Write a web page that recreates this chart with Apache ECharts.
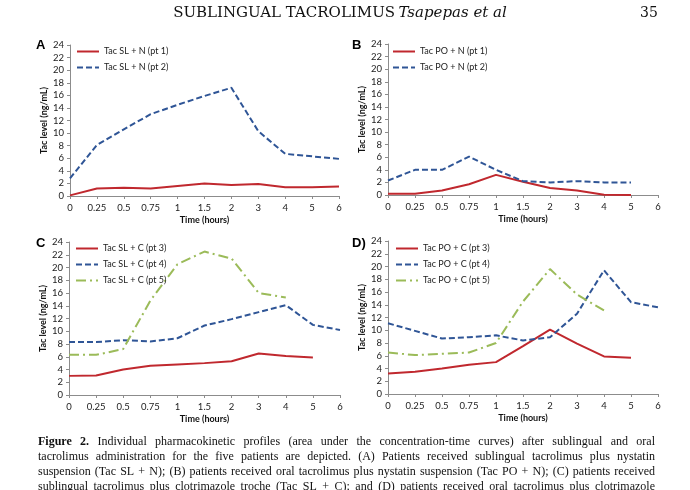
<!DOCTYPE html>
<html><head><meta charset="utf-8">
<script src="https://cdn.jsdelivr.net/npm/echarts@6/dist/echarts.min.js"></script>
<style>html,body{margin:0;padding:0;background:#fff}#c{width:690px;height:490px}</style>
</head><body><div id="c"></div>
<script>
// ---- data ----
const timeLabels = ['0','0.25','0.5','0.75','1','1.5','2','3','4','5','6'];
const yMin = 0, yMax = 24, yStep = 2;

const aNames = ['Tac SL + N (pt 1)', 'Tac SL + N (pt 2)'];
const aPt1 = [0.1, 1.2, 1.3, 1.2, 1.6, 2.0, 1.75, 1.9, 1.4, 1.4, 1.5];
const aPt2 = [2.8, 8.1, 10.6, 13.0, 14.5, 15.9, 17.2, 10.3, 6.7, 6.3, 5.9];

const bNames = ['Tac PO + N (pt 1)', 'Tac PO + N (pt 2)'];
const bPt1 = [0.2, 0.2, 0.7, 1.7, 3.2, 2.1, 1.1, 0.7, 0.05, 0.0, null];
const bPt2 = [2.3, 4.0, 4.0, 6.1, 4.0, 2.2, 2.0, 2.2, 2.0, 2.0, null];

const cNames = ['Tac SL + C (pt 3)', 'Tac SL + C (pt 4)', 'Tac SL + C (pt 5)'];
const cPt3 = [3.0, 3.05, 4.0, 4.6, 4.8, 5.0, 5.3, 6.5, 6.1, 5.9, null];
const cPt4 = [8.3, 8.3, 8.6, 8.4, 8.9, 10.9, 11.9, 13.0, 14.1, 11.0, 10.2];
const cPt5 = [6.3, 6.3, 7.2, 14.8, 20.5, 22.5, 21.4, 16.0, 15.3, null, null];

const dNames = ['Tac PO + C (pt 3)', 'Tac PO + C (pt 4)', 'Tac PO + C (pt 5)'];
const dPt3 = [3.2, 3.5, 4.0, 4.6, 5.0, 7.5, 10.1, 7.9, 5.9, 5.7, null];
const dPt4 = [11.1, 9.9, 8.7, 8.9, 9.2, 8.4, 8.9, 12.6, 19.4, 14.4, 13.6];
const dPt5 = [6.5, 6.1, 6.3, 6.5, 8.0, 14.5, 19.6, 15.6, 13.1, null, null];

const panelLetters = ['A', 'B', 'C', 'D)'];
const xAxisTitle = 'Time (hours)';
const yAxisTitle = 'Tac level (ng/mL)';
const headerMain = 'SUBLINGUAL TACROLIMUS';
const headerItalic = 'Tsapepas et al';
const pageNumber = '35';
const captionLines = [
  'Figure 2. Individual pharmacokinetic profiles (area under the concentration-time curves) after sublingual and oral',
  'tacrolimus administration for the five patients are depicted. (A) Patients received sublingual tacrolimus plus nystatin',
  'suspension (Tac SL + N); (B) patients received oral tacrolimus plus nystatin suspension (Tac PO + N); (C) patients received',
  'sublingual tacrolimus plus clotrimazole troche (Tac SL + C); and (D) patients received oral tacrolimus plus clotrimazole',
  'troche (Tac PO + C).'
];

// ---- styles ----
const RED = '#C0282E', BLUE = '#2F5596', GREEN = '#9BBB59';
const FONT = 'Lato';
const AXIS_COLOR = '#8c8c8c';
const styles = {
  red: {color: RED, lineStyle: {color: RED, width: 2, type: 'solid'}},
  blue: {color: BLUE, lineStyle: {color: BLUE, width: 2, type: [6, 3]}},
  green: {color: GREEN, lineStyle: {color: GREEN, width: 2, type: [10, 4, 2, 4]}}
};

const grids = [
  {left: 70, top: 45, width: 269, height: 151},
  {left: 388, top: 44, width: 270, height: 151},
  {left: 69, top: 242, width: 271, height: 153},
  {left: 388, top: 241, width: 270, height: 153}
];

const panels = [
  {names: aNames, data: [aPt1, aPt2], st: ['red', 'blue'], legend: {left: 71, top: 42}},
  {names: bNames, data: [bPt1, bPt2], st: ['red', 'blue'], legend: {left: 387, top: 42}},
  {names: cNames, data: [cPt3, cPt4, cPt5], st: ['red', 'blue', 'green'], legend: {left: 70, top: 239}},
  {names: dNames, data: [dPt3, dPt4, dPt5], st: ['red', 'blue', 'green'], legend: {left: 390, top: 239}}
];

const xAxes = [], yAxes = [], series = [], legends = [];
panels.forEach((p, i) => {
  xAxes.push({
    type: 'category', gridIndex: i, data: timeLabels, boundaryGap: false,
    axisLine: {lineStyle: {color: AXIS_COLOR, width: 1}},
    axisTick: {show: true, inside: false, length: 3, lineStyle: {color: AXIS_COLOR}},
    axisLabel: {color: '#222', fontSize: 9.5, fontFamily: FONT, margin: 7},
    splitLine: {show: false},
    name: xAxisTitle, nameLocation: 'middle', nameGap: 20,
    nameTextStyle: {color: '#111', fontSize: 9, fontWeight: 'bold', fontFamily: FONT}
  });
  yAxes.push({
    type: 'value', gridIndex: i, min: yMin, max: yMax, interval: yStep,
    axisLine: {show: true, lineStyle: {color: AXIS_COLOR, width: 1}},
    axisTick: {show: true, length: 3, lineStyle: {color: AXIS_COLOR}},
    axisLabel: {color: '#222', fontSize: 9.5, fontFamily: FONT, margin: 6},
    splitLine: {show: false},
    name: yAxisTitle, nameLocation: 'middle', nameGap: 21, nameRotate: 90,
    nameTextStyle: {color: '#111', fontSize: 9, fontWeight: 'bold', fontFamily: FONT}
  });
  p.names.forEach((n, k) => {
    const s = styles[p.st[k]];
    series.push({
      type: 'line', name: n, xAxisIndex: i, yAxisIndex: i, data: p.data[k],
      symbol: 'none', showSymbol: false, smooth: false, connectNulls: false,
      color: s.color, lineStyle: s.lineStyle, animation: false
    });
  });
  legends.push({
    data: p.names, orient: 'vertical', left: p.legend.left, top: p.legend.top,
    itemWidth: 22, itemHeight: 10, itemGap: 7,
    itemStyle: {opacity: 0, borderWidth: 0},
    textStyle: {color: '#222', fontSize: 9, fontFamily: FONT},
    selectedMode: false
  });
});

// ---- graphic text: header, letters, caption ----
const graphic = [];
graphic.push({
  type: 'text', x: 340, y: 13,
  style: {
    text: '{a|' + headerMain + '} {b|' + headerItalic + '}',
    align: 'center', verticalAlign: 'middle',
    rich: {
      a: {fontFamily: 'DejaVu Serif', fontSize: 15, fill: '#111'},
      b: {fontFamily: 'DejaVu Serif', fontSize: 15, fontStyle: 'italic', fill: '#111'}
    }
  }
});
graphic.push({type: 'text', x: 649, y: 13, style: {text: pageNumber, font: '14px "DejaVu Serif"', fill: '#111', align: 'center', verticalAlign: 'middle'}});
const letterPos = [[36, 45], [352, 45], [36, 243], [352, 243]];
panelLetters.forEach((L, i) => {
  graphic.push({type: 'text', x: letterPos[i][0], y: letterPos[i][1],
    style: {text: L, font: 'bold 13px "Liberation Sans"', fill: '#000', align: 'left', verticalAlign: 'middle'}});
});

const capL = 38, capR = 655, capY0 = 442, capLH = 14.8, capSize = 12;
const ctx = document.createElement('canvas').getContext('2d');
function fontStr(bold) { return (bold ? 'bold ' : '') + capSize + 'px "Liberation Serif"'; }
function measure(w, bold) { ctx.font = fontStr(bold); return ctx.measureText(w).width; }
captionLines.forEach((line, li) => {
  const words = line.split(' ');
  const bolds = words.map((w, wi) => li === 0 && wi < 2);
  const widths = words.map((w, wi) => measure(w, bolds[wi]));
  const total = widths.reduce((a, b) => a + b, 0);
  const justify = li < captionLines.length - 1;
  const gap = justify ? (capR - capL - total) / (words.length - 1) : measure(' ', false);
  let x = capL;
  words.forEach((w, wi) => {
    graphic.push({type: 'text', x: x, y: capY0 + li * capLH,
      style: {text: w, font: fontStr(bolds[wi]), fill: '#111', align: 'left', verticalAlign: 'middle'}});
    x += widths[wi] + gap;
  });
});

const chart = echarts.init(document.getElementById('c'), null, {renderer: 'canvas'});
chart.setOption({
  backgroundColor: '#fff',
  animation: false,
  grid: grids,
  xAxis: xAxes,
  yAxis: yAxes,
  series: series,
  legend: legends,
  graphic: graphic
});
</script>
</body></html>
